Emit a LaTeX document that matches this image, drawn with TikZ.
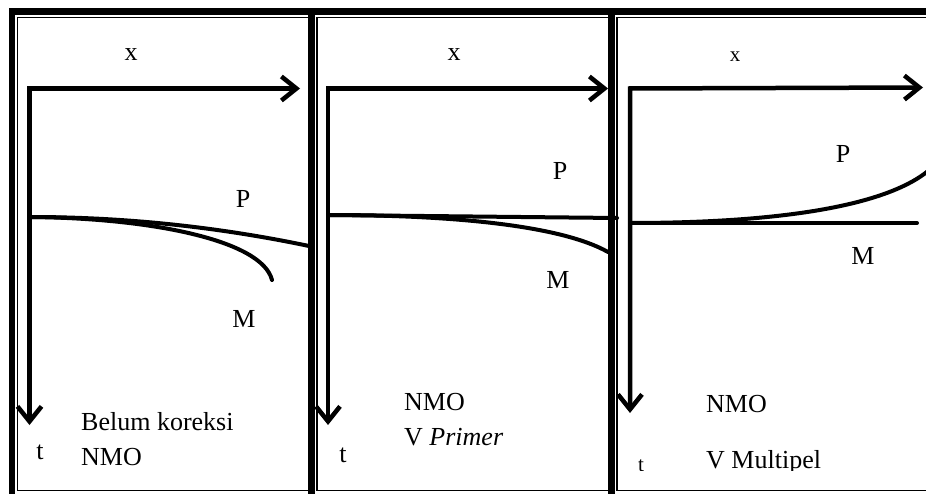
\documentclass[tikz,border=0pt]{standalone}
\usepackage{fontspec}
\setmainfont{Liberation Serif}
\usetikzlibrary{arrows.meta}
\begin{document}
\begin{tikzpicture}[x=1pt,y=-1pt,
  thickrule/.style={line width=6.5pt},
  thinrule/.style={line width=1.3pt},
  axisline/.style={line width=4.5pt, line join=miter,
    {Straight Barb[length=15pt,width=24pt]}-{Straight Barb[length=15pt,width=24pt]}},
  wave/.style={line width=4pt, line cap=round},
  lbl/.style={font=\fontsize{26}{28}\selectfont, inner sep=0pt, anchor=base},
  smalllbl/.style={font=\fontsize{21}{23}\selectfont, inner sep=0pt, anchor=base},
  txt/.style={font=\fontsize{26}{28}\selectfont, inner sep=0pt, anchor=base west},
]
\useasboundingbox (0,0) rectangle (926,494);
\clip (0,0) rectangle (926,494);
% table frame
\draw[thickrule] (930,11.75) -- (11.75,11.75) -- (11.75,500);
\draw[thickrule] (311.3,11.75) -- (311.3,500);
\draw[thickrule] (611.3,11.75) -- (611.3,500);
\draw[thinrule] (308,17.5) -- (17.5,17.5) -- (17.5,490.5) -- (308,490.5);
\draw[thinrule] (608,17.5) -- (317,17.5) -- (317,490.5) -- (608,490.5);
\draw[thinrule] (930,17.5) -- (617,17.5) -- (617,490.5) -- (930,490.5);

% ---------- panel 1 ----------
\coordinate (o1) at (29.5,88.5);
\coordinate (x1) at (300,88.5);
\coordinate (t1) at (29.5,425);
\draw[axisline] (x1) -- (o1) -- (t1);
\coordinate (s1) at (29.5,217);
\coordinate (p1) at (309,246);
\coordinate (m1) at (272,280);
\draw[wave] (s1) .. controls (122.7,217) and (215.3,226.4) .. (p1);
\draw[wave] (s1) .. controls (150,218) and (262,240) .. (m1);
\node[lbl] (lx1) at (131,61) {x};
\node[lbl] (lp1) at (243,208) {P};
\node[lbl] (lm1) at (244,327) {M};
\node[lbl] (lt1) at (40,459) {t};
\node[txt] (a1) at (81,430) {Belum koreksi};
\node[txt] (b1) at (81,465) {NMO};

% ---------- panel 2 ----------
\coordinate (o2) at (328,88.5);
\coordinate (x2) at (608,88.5);
\coordinate (t2) at (328,425);
\draw[axisline] (x2) -- (o2) -- (t2);
\coordinate (s2) at (328,215);
\coordinate (p2) at (617,218);
\coordinate (m2) at (608,252);
\draw[wave] (s2) -- (p2);
\draw[wave] (s2) .. controls (450,215) and (560,225) .. (m2);
\node[lbl] (lx2) at (454,61) {x};
\node[lbl] (lp2) at (560,180) {P};
\node[lbl] (lm2) at (558,288) {M};
\node[lbl] (lt2) at (343,462) {t};
\node[txt] (a2) at (404,410) {NMO};
\node[txt] (b2) at (404,445) {V \textit{Primer}};

% ---------- panel 3 ----------
\coordinate (o3) at (630,88.5);
\coordinate (x3) at (923,87.5);
\coordinate (t3) at (630,413);
\draw[axisline] (x3) -- (o3) -- (t3);
\coordinate (s3) at (630,223);
\coordinate (m3) at (917,223);
\coordinate (p3) at (928,171);
\draw[wave] (s3) -- (m3);
\draw[wave] (s3) .. controls (760,223) and (880,210) .. (p3);
\node[smalllbl] (lx3) at (735,62) {x};
\node[lbl] (lp3) at (843,163) {P};
\node[lbl] (lm3) at (863,265) {M};
\node[txt] (a3) at (706,412) {NMO};
\begin{scope}
  \clip (620,430) rectangle (926,470);
  \node[smalllbl] (lt3) at (641,471) {t};
  \node[txt] (b3) at (706,468) {V Multipel};
\end{scope}
\end{tikzpicture}
\end{document}
